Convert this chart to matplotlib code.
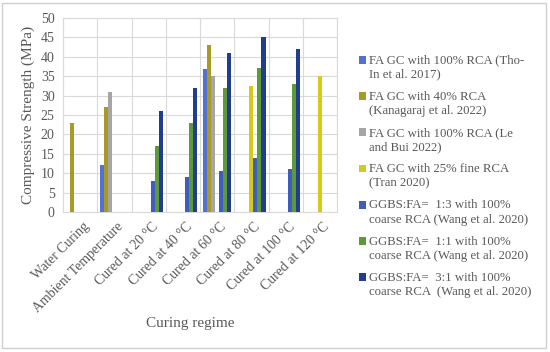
import numpy as np
import matplotlib.pyplot as plt
from matplotlib.patches import Rectangle
from matplotlib.legend_handler import HandlerPatch

plt.rcParams['font.family'] = ['Liberation Serif', 'DejaVu Serif']

categories = ['Water Curing', 'Ambient Temperature', 'Cured at 20 °C', 'Cured at 40 °C',
              'Cured at 60 °C', 'Cured at 80 °C', 'Cured at 100 °C', 'Cured at 120 °C']

labels = ['FA GC with 100% RCA (Tho-\nIn et al. 2017)',
          'FA GC with 40% RCA\n(Kanagaraj et al. 2022)',
          'FA GC with 100% RCA (Le\nand Bui 2022)',
          'FA GC with 25% fine RCA\n(Tran 2020)',
          'GGBS:FA=  1:3 with 100%\ncoarse RCA (Wang et al. 2020)',
          'GGBS:FA=  1:1 with 100%\ncoarse RCA (Wang et al. 2020)',
          'GGBS:FA=  3:1 with 100%\ncoarse RCA  (Wang et al. 2020)']

nan = np.nan
tho_in = [nan, 12, nan, nan, 36.8, nan, nan, nan]
kanagaraj = [23, 27, nan, nan, 43, nan, nan, nan]
le_bui = [nan, 31, nan, nan, 35, nan, nan, nan]
tran = [nan, nan, nan, nan, nan, 32.5, nan, 35]
wang_13 = [nan, nan, 8, 9, 10.5, 14, 11, nan]
wang_11 = [nan, nan, 17, 23, 32, 37, 33, nan]
wang_31 = [nan, nan, 26, 32, 41, 45, 42, nan]

series = [tho_in, kanagaraj, le_bui, tran, wang_13, wang_11, wang_31]
colors = ['#5372CF', '#A89A26', '#A6A6A6', '#D6C91A', '#3F5DBE', '#5E9A3C', '#213E8E']

txt = '#595959'
grid = '#D9D9D9'

fig = plt.figure(figsize=(5.5, 3.52), dpi=100)
ax = fig.add_axes([63/550, 1 - 212/352, 274/550, 194/352])

x = np.arange(len(categories))
w = 0.118
handles = []
for i, (vals, c) in enumerate(zip(series, colors)):
    b = ax.bar(x + (i - 3) * w, vals, width=w, color=c, zorder=3)
    handles.append(b.patches[0])

ax.set_xlim(-0.5, len(categories) - 0.5)
ax.set_ylim(0, 50)
ax.set_yticks(np.arange(0, 51, 5))
ax.set_xticks(x + 0.08)
ax.set_xticks(np.arange(-0.5, len(categories), 1), minor=True)
ax.set_xticklabels(categories, rotation=45, ha='right', rotation_mode='anchor')
ax.tick_params(axis='x', which='both', length=0, pad=6, labelsize=10, colors=txt)
ax.tick_params(axis='y', length=0, pad=6, labelsize=10, colors=txt)
ax.grid(axis='y', color=grid, lw=0.8, zorder=0)
ax.grid(axis='x', which='minor', color=grid, lw=0.8, zorder=0)
for s in ax.spines.values():
    s.set_color(grid)
    s.set_linewidth(0.8)

ax.set_ylabel('Compressive Strength (MPa)', fontsize=11, color=txt, labelpad=4)
fig.text(190/550, 1 - 323/352, 'Curing regime', fontsize=11, color=txt,
         ha='center', va='center')


# square sits on the first line of each two-line label, like the original
def square(legend, orig_handle, xdescent, ydescent, width, height, fontsize):
    return Rectangle((-xdescent, -ydescent + 5.6), width, height)


leg = fig.legend(handles, labels, loc='upper left', bbox_to_anchor=(347/550, 1 - 43/352),
                 frameon=False, fontsize=9.2, handlelength=0.55, handleheight=0.55,
                 handletextpad=0.25, labelspacing=0.78,
                 handler_map={Rectangle: HandlerPatch(patch_func=square)})
for t in leg.get_texts():
    t.set_color(txt)
    t.set_linespacing(1.25)

fig.patches.append(Rectangle((2/550, 4/352), 544/550, 345/352, transform=fig.transFigure,
                             fill=False, edgecolor='#D0D0D0', lw=1))

fig.savefig('out.png', dpi=100)
